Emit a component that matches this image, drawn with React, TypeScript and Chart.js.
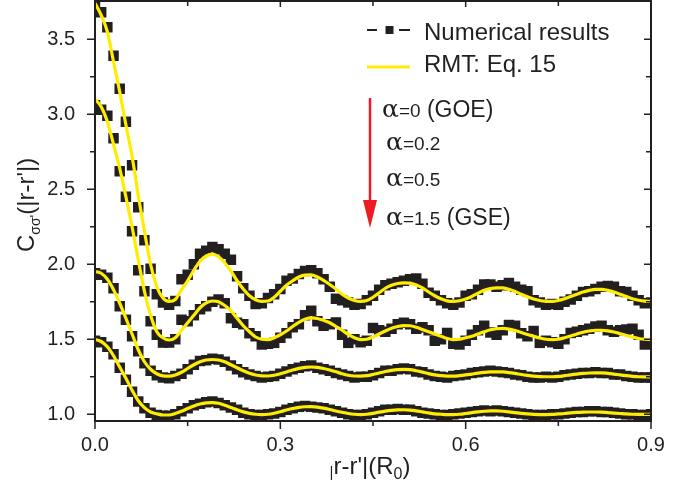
import React, { useEffect, useRef } from 'react';
import { Chart, registerables } from 'chart.js';

Chart.register(...registerables);

const INK = '#231f20';
const YELLOW = '#ffed00';
const RED = '#ed1c24';
const SANS = '"Liberation Sans", Arial, Helvetica, sans-serif';
const GREEK = '"DejaVu Serif", "Liberation Serif", serif';

// x grid |r-r'| in units of R0
const xs = [
  0, 0.01, 0.02, 0.03, 0.04, 0.05, 0.06, 0.07, 0.08, 0.09,
  0.1, 0.11, 0.12, 0.13, 0.14, 0.15, 0.16, 0.17, 0.18, 0.19,
  0.2, 0.21, 0.22, 0.23, 0.24, 0.25, 0.26, 0.27, 0.28, 0.29,
  0.3, 0.31, 0.32, 0.33, 0.34, 0.35, 0.36, 0.37, 0.38, 0.39,
  0.4, 0.41, 0.42, 0.43, 0.44, 0.45, 0.46, 0.47, 0.48, 0.49,
  0.5, 0.51, 0.52, 0.53, 0.54, 0.55, 0.56, 0.57, 0.58, 0.59,
  0.6, 0.61, 0.62, 0.63, 0.64, 0.65, 0.66, 0.67, 0.68, 0.69,
  0.7, 0.71, 0.72, 0.73, 0.74, 0.75, 0.76, 0.77, 0.78, 0.79,
  0.8, 0.81, 0.82, 0.83, 0.84, 0.85, 0.86, 0.87, 0.88, 0.89,
  0.9,
];

// RMT (Eq. 15) curves
const rmtGOE = [
  3.74, 3.66, 3.55, 3.35, 3.15, 2.93, 2.72, 2.46, 2.22, 2.0,
  1.85, 1.775, 1.752, 1.765, 1.83, 1.89, 1.96, 2.02, 2.055, 2.068,
  2.05, 2.01, 1.955, 1.89, 1.835, 1.79, 1.763, 1.752, 1.755, 1.78,
  1.82, 1.86, 1.89, 1.915, 1.928, 1.929, 1.915, 1.893, 1.865, 1.835,
  1.8, 1.775, 1.758, 1.752, 1.758, 1.78, 1.81, 1.84, 1.86, 1.872,
  1.876, 1.874, 1.862, 1.843, 1.815, 1.79, 1.77, 1.756, 1.752, 1.757,
  1.768, 1.785, 1.807, 1.826, 1.838, 1.843, 1.842, 1.833, 1.818, 1.8,
  1.783, 1.768, 1.758, 1.753, 1.752, 1.758, 1.77, 1.785, 1.8, 1.815,
  1.826, 1.832, 1.832, 1.826, 1.815, 1.8, 1.785, 1.77, 1.76, 1.754,
  1.752,
];
const rmtA02 = [
  3.1, 3.05, 2.95, 2.8, 2.64, 2.45, 2.25, 2.03, 1.82, 1.66,
  1.55, 1.51, 1.495, 1.51, 1.56, 1.61, 1.66, 1.71, 1.742, 1.755,
  1.75, 1.725, 1.69, 1.64, 1.59, 1.55, 1.515, 1.5, 1.498, 1.51,
  1.53, 1.555, 1.585, 1.613, 1.633, 1.642, 1.638, 1.626, 1.61, 1.585,
  1.56, 1.532, 1.51, 1.498, 1.5, 1.515, 1.535, 1.555, 1.573, 1.585,
  1.591, 1.59, 1.58, 1.565, 1.55, 1.535, 1.52, 1.505, 1.498, 1.5,
  1.51, 1.52, 1.535, 1.55, 1.563, 1.57, 1.572, 1.568, 1.558, 1.545,
  1.532, 1.52, 1.508, 1.5, 1.498, 1.5, 1.51, 1.522, 1.535, 1.547,
  1.555, 1.56, 1.56, 1.556, 1.548, 1.537, 1.525, 1.514, 1.505, 1.5,
  1.498,
];
const rmtA05 = [
  1.952, 1.94, 1.9, 1.83, 1.74, 1.64, 1.535, 1.43, 1.35, 1.3,
  1.27, 1.256, 1.254, 1.262, 1.28, 1.305, 1.33, 1.35, 1.362, 1.365,
  1.362, 1.35, 1.33, 1.31, 1.29, 1.273, 1.262, 1.256, 1.255, 1.26,
  1.27, 1.282, 1.295, 1.306, 1.313, 1.315, 1.312, 1.305, 1.295, 1.283,
  1.27, 1.26, 1.255, 1.254, 1.257, 1.265, 1.275, 1.285, 1.293, 1.298,
  1.299, 1.297, 1.29, 1.281, 1.271, 1.263, 1.257, 1.254, 1.254, 1.257,
  1.262, 1.268, 1.274, 1.279, 1.282, 1.283, 1.282, 1.278, 1.272, 1.265,
  1.259, 1.254, 1.251, 1.25, 1.25, 1.252, 1.257, 1.263, 1.268, 1.272,
  1.275, 1.276, 1.276, 1.273, 1.268, 1.262, 1.257, 1.253, 1.25, 1.249,
  1.249,
];
const rmtGSE = [
  1.499, 1.485, 1.45, 1.39, 1.315, 1.24, 1.16, 1.09, 1.044, 1.015,
  1.003, 0.995, 0.995, 1.005, 1.02, 1.038, 1.055, 1.068, 1.076, 1.078,
  1.073, 1.06, 1.045, 1.03, 1.016, 1.006, 1.0, 0.998, 1.0, 1.007,
  1.017, 1.028, 1.038, 1.046, 1.05, 1.051, 1.048, 1.041, 1.032, 1.022,
  1.013, 1.005, 1.0, 0.998, 1.0, 1.006, 1.014, 1.021, 1.026, 1.029,
  1.03, 1.028, 1.023, 1.016, 1.009, 1.003, 1.0, 0.998, 0.998, 1.0,
  1.005, 1.011, 1.016, 1.02, 1.022, 1.022, 1.02, 1.016, 1.011, 1.006,
  1.002, 0.999, 0.998, 0.998, 0.999, 1.002, 1.005, 1.009, 1.012, 1.014,
  1.015, 1.015, 1.014, 1.011, 1.008, 1.005, 1.002, 1.0, 0.999, 0.999,
  0.999,
];

// Numerical results
const numGOE = [
  3.74, 3.68, 3.58, 3.39, 3.17, 2.95, 2.66, 2.38, 2.16, 1.97,
  1.8, 1.745, 1.73, 1.755, 1.9, 1.93, 2.0, 2.07, 2.09, 2.115,
  2.1, 2.07, 2.03, 1.92, 1.84, 1.79, 1.735, 1.74, 1.775, 1.8,
  1.835, 1.89, 1.905, 1.935, 1.955, 1.96, 1.94, 1.9, 1.85, 1.77,
  1.76, 1.745, 1.73, 1.735, 1.76, 1.79, 1.83, 1.86, 1.87, 1.88,
  1.89, 1.9, 1.905, 1.87, 1.81, 1.79, 1.76, 1.74, 1.73, 1.745,
  1.79, 1.8, 1.83, 1.865, 1.865, 1.85, 1.86, 1.875, 1.85, 1.83,
  1.82, 1.76, 1.745, 1.73, 1.735, 1.73, 1.75, 1.765, 1.79, 1.815,
  1.82, 1.835, 1.85, 1.855, 1.85, 1.82, 1.815, 1.79, 1.76, 1.74,
  1.745,
];
const numA02 = [
  3.06, 3.03, 2.99, 2.84, 2.62, 2.45, 2.22, 1.96, 1.82, 1.62,
  1.53, 1.478, 1.478, 1.5, 1.63, 1.62, 1.66, 1.7, 1.72, 1.75,
  1.765, 1.74, 1.64, 1.61, 1.6, 1.54, 1.52, 1.465, 1.47, 1.476,
  1.51, 1.54, 1.58, 1.6, 1.66, 1.69, 1.62, 1.59, 1.6, 1.612,
  1.53, 1.476, 1.5, 1.48, 1.49, 1.575, 1.56, 1.55, 1.57, 1.6,
  1.61, 1.6, 1.57, 1.58, 1.56, 1.49, 1.5, 1.542, 1.47, 1.465,
  1.49, 1.53, 1.56, 1.59, 1.545, 1.53, 1.56, 1.595, 1.59, 1.54,
  1.52, 1.555, 1.476, 1.49, 1.48, 1.47, 1.5, 1.542, 1.55, 1.56,
  1.57, 1.585, 1.59, 1.56, 1.55, 1.56, 1.565, 1.57, 1.53, 1.465,
  1.47,
];
const numA05 = [
  1.94, 1.93, 1.91, 1.84, 1.72, 1.63, 1.52, 1.42, 1.34, 1.29,
  1.26, 1.245, 1.24, 1.255, 1.27, 1.3, 1.33, 1.355, 1.36, 1.37,
  1.365, 1.35, 1.325, 1.3, 1.28, 1.265, 1.255, 1.245, 1.25, 1.255,
  1.27, 1.285, 1.3, 1.31, 1.32, 1.325, 1.31, 1.3, 1.29, 1.275,
  1.265, 1.255, 1.245, 1.25, 1.25, 1.26, 1.275, 1.29, 1.29, 1.3,
  1.305, 1.3, 1.285, 1.28, 1.265, 1.255, 1.25, 1.245, 1.255, 1.26,
  1.265, 1.275, 1.28, 1.285, 1.29, 1.285, 1.28, 1.275, 1.265, 1.26,
  1.25, 1.245, 1.245, 1.25, 1.245, 1.25, 1.26, 1.265, 1.27, 1.275,
  1.275, 1.28, 1.275, 1.275, 1.265, 1.265, 1.255, 1.25, 1.245, 1.245,
  1.245,
];
const numGSE = [
  1.49, 1.48, 1.45, 1.4, 1.31, 1.23, 1.15, 1.085, 1.04, 1.01,
  0.995, 0.99, 0.99, 1.0, 1.02, 1.04, 1.06, 1.07, 1.08, 1.085,
  1.075, 1.06, 1.045, 1.03, 1.01, 1.0, 0.995, 0.995, 1.0, 1.005,
  1.015, 1.03, 1.04, 1.05, 1.055, 1.05, 1.045, 1.04, 1.03, 1.02,
  1.01, 1.0, 0.995, 0.995, 1.0, 1.01, 1.02, 1.03, 1.03, 1.035,
  1.03, 1.03, 1.02, 1.01, 1.005, 1.0, 0.995, 0.995, 1.0, 1.005,
  1.01, 1.015, 1.02, 1.025, 1.02, 1.025, 1.02, 1.015, 1.01, 1.005,
  1.0, 0.995, 0.995, 0.995, 1.0, 1.0, 1.005, 1.01, 1.015, 1.015,
  1.02, 1.02, 1.015, 1.015, 1.01, 1.005, 1.0, 1.0, 0.995, 0.995,
  1.0,
];

const xTickLabels = [0, 0.3, 0.6, 0.9];
const xMinorTicks = [0.15, 0.45, 0.75];
const yTickLabels = [1.0, 1.5, 2.0, 2.5, 3.0, 3.5];
const yMinorTicks = [1.25, 1.75, 2.25, 2.75, 3.25];
const legendLabels = ['Numerical results', 'RMT: Eq. 15'];
const alphaValues = ['=0', '=0.2', '=0.5', '=1.5'];
const alphaTags = [' (GOE)', '', '', ' (GSE)'];

type Run = { t: string; font: string; dy?: number };

function drawRuns(ctx: CanvasRenderingContext2D, x: number, y: number, runs: Run[], center = false) {
  let total = 0;
  runs.forEach((r) => {
    ctx.font = r.font;
    total += ctx.measureText(r.t).width;
  });
  let cx = center ? x - total / 2 : x;
  runs.forEach((r) => {
    ctx.font = r.font;
    ctx.fillText(r.t, cx, y + (r.dy || 0));
    cx += ctx.measureText(r.t).width;
  });
}

const overlayPlugin = {
  id: 'overlay',
  afterDatasetsDraw(chart: any) {
    const { ctx, chartArea: a, scales } = chart;
    const sx = scales.x;
    const sy = scales.y;
    ctx.save();
    ctx.strokeStyle = INK;
    ctx.lineWidth = 2;
    ctx.strokeRect(a.left, a.top, a.right - a.left, a.bottom - a.top);
    ctx.lineWidth = 1.5;
    const seg = (x1: number, y1: number, x2: number, y2: number) => {
      ctx.beginPath();
      ctx.moveTo(x1, y1);
      ctx.lineTo(x2, y2);
      ctx.stroke();
    };
    xTickLabels.forEach((v) => {
      const p = sx.getPixelForValue(v);
      seg(p, a.bottom, p, a.bottom + 8);
      seg(p, a.top, p, a.top + 6);
    });
    xMinorTicks.forEach((v) => {
      const p = sx.getPixelForValue(v);
      seg(p, a.bottom, p, a.bottom + 5);
      seg(p, a.top, p, a.top + 5);
    });
    yTickLabels.forEach((v) => {
      const p = sy.getPixelForValue(v);
      seg(a.left - 8, p, a.left, p);
      seg(a.right, p, a.right - 7, p);
    });
    yMinorTicks.forEach((v) => {
      const p = sy.getPixelForValue(v);
      seg(a.left - 5, p, a.left, p);
      seg(a.right, p, a.right - 5, p);
    });
    ctx.restore();
  },
  afterDraw(chart: any) {
    const { ctx, chartArea: a } = chart;
    ctx.save();
    ctx.fillStyle = INK;
    ctx.textBaseline = 'alphabetic';
    ctx.textAlign = 'left';

    // Legend
    ctx.strokeStyle = INK;
    ctx.lineWidth = 2;
    ctx.beginPath();
    ctx.moveTo(367, 30);
    ctx.lineTo(377, 30);
    ctx.moveTo(399, 30);
    ctx.lineTo(410, 30);
    ctx.stroke();
    ctx.fillRect(385.5, 26, 8, 8);
    ctx.strokeStyle = YELLOW;
    ctx.lineWidth = 3;
    ctx.beginPath();
    ctx.moveTo(367, 67);
    ctx.lineTo(410, 67);
    ctx.stroke();
    ctx.font = `24px ${SANS}`;
    ctx.fillText(legendLabels[0], 424, 40);
    ctx.fillText(legendLabels[1], 424, 71.5);

    // Arrow
    ctx.strokeStyle = RED;
    ctx.fillStyle = RED;
    ctx.lineWidth = 2.5;
    ctx.beginPath();
    ctx.moveTo(370, 98);
    ctx.lineTo(370, 203);
    ctx.stroke();
    ctx.beginPath();
    ctx.moveTo(363, 200);
    ctx.lineTo(377, 200);
    ctx.lineTo(370, 228);
    ctx.closePath();
    ctx.fill();

    // alpha labels
    ctx.fillStyle = INK;
    const rowX = [382, 386, 386, 386];
    const rowY = [117, 150, 185.5, 225];
    alphaValues.forEach((val, i) => {
      const runs: Run[] = [
        { t: '\u03b1', font: `25px ${GREEK}` },
        { t: val, font: `19px ${SANS}` },
      ];
      if (alphaTags[i]) runs.push({ t: alphaTags[i], font: `23px ${SANS}` });
      drawRuns(ctx, rowX[i], rowY[i], runs);
    });

    // x-axis title
    const cx = (a.left + a.right) / 2 - 3;
    drawRuns(
      ctx,
      cx,
      474,
      [
        { t: '|', font: `15px ${SANS}`, dy: 3 },
        { t: "r-r'|(R", font: `24px ${SANS}` },
        { t: '0', font: `16px ${SANS}`, dy: 5 },
        { t: ')', font: `24px ${SANS}` },
      ],
      true
    );

    // y-axis title
    ctx.save();
    ctx.translate(34, 252);
    ctx.rotate(-Math.PI / 2);
    drawRuns(ctx, 0, 0, [
      { t: 'C', font: `24px ${SANS}` },
      { t: "\u03c3\u03c3'", font: `14px ${SANS}`, dy: 6 },
      { t: "(|r-r'|)", font: `24px ${SANS}` },
    ]);
    ctx.restore();

    ctx.restore();
  },
};

const pts = (vals: number[]) => vals.map((y, i) => ({ x: xs[i], y }));
const rmtSeries = [rmtGOE, rmtA02, rmtA05, rmtGSE];
const numSeries = [numGOE, numA02, numA05, numGSE];

export default function App() {
  const ref = useRef<HTMLCanvasElement>(null);
  useEffect(() => {
    if (!ref.current) return;
    const tickFont = { family: SANS, size: 20 };
    const chart = new Chart(ref.current, {
      type: 'line',
      data: {
        datasets: [
          ...rmtSeries.map((s) => ({
            data: pts(s),
            borderColor: YELLOW,
            borderWidth: 3.2,
            pointRadius: 0,
            cubicInterpolationMode: 'monotone' as const,
            fill: false,
            order: 0,
            clip: 0,
          })),
          ...numSeries.map((s) => ({
            data: pts(s),
            showLine: false,
            borderColor: INK,
            borderWidth: 0,
            pointStyle: 'rect' as const,
            pointRadius: 7.4,
            pointBackgroundColor: INK,
            pointBorderWidth: 0,
            fill: false,
            order: 1,
            clip: 0,
          })),
        ],
      },
      options: {
        animation: false,
        responsive: false,
        devicePixelRatio: 1,
        events: [],
        layout: { autoPadding: false, padding: { top: 1, right: 40, left: 0, bottom: 0 } },
        plugins: { legend: { display: false }, tooltip: { enabled: false } },
        scales: {
          x: {
            type: 'linear',
            min: 0,
            max: 0.9,
            grid: { display: false },
            border: { display: false },
            ticks: {
              font: tickFont,
              color: INK,
              padding: 4,
              maxRotation: 0,
              minRotation: 0,
              autoSkip: false,
              callback: (v: any) => Number(v).toFixed(1),
            },
            afterBuildTicks: (s: any) => {
              s.ticks = xTickLabels.map((v) => ({ value: v }));
            },
            afterFit: (s: any) => {
              s.height = 68;
              s.paddingLeft = 0;
              s.paddingRight = 0;
            },
          },
          y: {
            type: 'linear',
            min: 0.955,
            max: 3.755,
            grid: { display: false },
            border: { display: false },
            ticks: {
              font: tickFont,
              color: INK,
              padding: 12,
              autoSkip: false,
              callback: (v: any) => Number(v).toFixed(1),
            },
            afterBuildTicks: (s: any) => {
              s.ticks = yTickLabels.map((v) => ({ value: v }));
            },
            afterFit: (s: any) => {
              s.width = 95;
              s.paddingTop = 0;
              s.paddingBottom = 0;
            },
          },
        },
      },
      plugins: [overlayPlugin],
    } as any);
    return () => chart.destroy();
  }, []);
  return (
    <div style={{ position: 'absolute', left: 0, top: 0, width: 691, height: 489, background: '#fff' }}>
      <canvas ref={ref} width={691} height={489} style={{ display: 'block', width: 691, height: 489 }} />
    </div>
  );
}
